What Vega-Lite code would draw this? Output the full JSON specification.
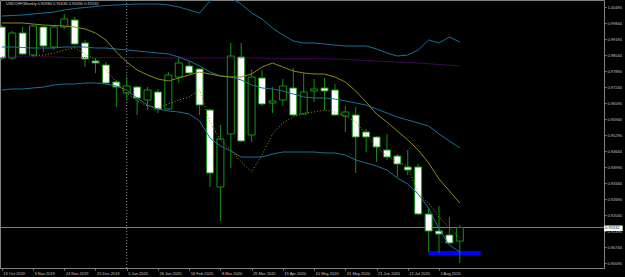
{
  "$schema": "https://vega.github.io/schema/vega-lite/v6.json",
  "width": 604,
  "height": 268,
  "autosize": {"type": "none"},
  "padding": {"left": 0, "top": 0, "right": 21, "bottom": 9},
  "background": "#000000",
  "config": {
    "font": "Liberation Sans",
    "view": {"stroke": "#808080", "fill": "#000000"},
    "scale": {"continuousPadding": 0},
    "axis": {"grid": false, "domainColor": "#808080", "tickColor": "#808080", "labelColor": "#c8c8c8", "labelFontSize": 4, "labelFont": "Liberation Sans", "tickSize": 2, "labelOverlap": false, "labelFlush": false, "title": null}
  },
  "datasets": {
    "bars": [
      {"d":"2019-10-13","o":0.99678,"h":0.99759,"l":0.98337,"c":0.98418,"up":1.00124,"mid":0.98865,"lo":0.97118,"ma":0.99840,"sar":null,"pur":0.98459},
      {"d":"2019-10-20","o":0.98418,"h":0.99515,"l":0.98337,"c":0.99434,"up":1.00145,"mid":0.98865,"lo":0.97159,"ma":0.99840,"sar":null,"pur":0.98459},
      {"d":"2019-10-27","o":0.99434,"h":0.99678,"l":0.98540,"c":0.98581,"up":1.00165,"mid":0.98845,"lo":0.97159,"ma":0.99840,"sar":null,"pur":0.98459},
      {"d":"2019-11-03","o":0.98540,"h":0.99759,"l":0.98499,"c":0.99718,"up":1.00206,"mid":0.98824,"lo":0.97199,"ma":0.99799,"sar":0.98499,"pur":0.98459},
      {"d":"2019-11-10","o":0.99678,"h":0.99718,"l":0.98662,"c":0.98906,"up":1.00246,"mid":0.98824,"lo":0.97240,"ma":0.99759,"sar":0.98540,"pur":0.98459},
      {"d":"2019-11-17","o":0.98865,"h":0.99759,"l":0.98743,"c":0.99678,"up":1.00287,"mid":0.98824,"lo":0.97321,"ma":0.99738,"sar":0.98621,"pur":0.98459},
      {"d":"2019-11-24","o":0.99678,"h":1.00206,"l":0.99596,"c":1.00003,"up":1.00368,"mid":0.98865,"lo":0.97362,"ma":0.99718,"sar":0.98743,"pur":0.98438},
      {"d":"2019-12-01","o":0.99962,"h":1.00084,"l":0.98946,"c":0.98987,"up":1.00429,"mid":0.98865,"lo":0.97362,"ma":0.99678,"sar":0.98824,"pur":0.98438},
      {"d":"2019-12-08","o":0.99028,"h":0.99150,"l":0.98053,"c":0.98378,"up":1.00470,"mid":0.98865,"lo":0.97403,"ma":0.99596,"sar":0.98581,"pur":0.98438},
      {"d":"2019-12-15","o":0.98296,"h":0.98418,"l":0.97809,"c":0.98215,"up":1.00510,"mid":0.98824,"lo":0.97403,"ma":0.99434,"sar":0.98337,"pur":0.98438},
      {"d":"2019-12-22","o":0.98134,"h":0.98256,"l":0.97362,"c":0.97403,"up":1.00551,"mid":0.98824,"lo":0.97362,"ma":0.99150,"sar":0.97931,"pur":0.98438},
      {"d":"2019-12-29","o":0.97443,"h":0.97524,"l":0.96428,"c":0.97240,"up":1.00571,"mid":0.98784,"lo":0.97281,"ma":0.98662,"sar":0.97443,"pur":0.98438},
      {"d":"2020-01-05","o":0.96996,"h":0.97646,"l":0.96712,"c":0.97281,"up":1.00592,"mid":0.98743,"lo":0.97118,"ma":0.98256,"sar":0.96996,"pur":0.98438},
      {"d":"2020-01-12","o":0.97240,"h":0.97281,"l":0.96103,"c":0.96793,"up":1.00612,"mid":0.98703,"lo":0.96793,"ma":0.97931,"sar":0.96672,"pur":0.98438},
      {"d":"2020-01-19","o":0.96712,"h":0.97240,"l":0.96306,"c":0.97118,"up":1.00612,"mid":0.98662,"lo":0.96509,"ma":0.97728,"sar":0.96468,"pur":0.98438},
      {"d":"2020-01-26","o":0.97037,"h":0.97159,"l":0.96184,"c":0.96346,"up":1.00612,"mid":0.98621,"lo":0.96346,"ma":0.97565,"sar":0.96387,"pur":0.98438},
      {"d":"2020-02-02","o":0.96346,"h":0.97849,"l":0.96306,"c":0.97728,"up":1.00571,"mid":0.98581,"lo":0.96265,"ma":0.97484,"sar":0.96550,"pur":0.98418},
      {"d":"2020-02-09","o":0.97646,"h":0.98459,"l":0.97403,"c":0.98215,"up":1.00490,"mid":0.98459,"lo":0.96225,"ma":0.97606,"sar":0.96712,"pur":0.98418},
      {"d":"2020-02-16","o":0.98093,"h":0.98296,"l":0.97768,"c":0.97809,"up":1.00368,"mid":0.98296,"lo":0.96143,"ma":0.97728,"sar":0.96834,"pur":0.98418},
      {"d":"2020-02-23","o":0.97971,"h":0.98012,"l":0.96103,"c":0.96509,"up":1.00246,"mid":0.98093,"lo":0.95859,"ma":0.97849,"sar":0.97118,"pur":0.98418},
      {"d":"2020-03-01","o":0.96306,"h":0.96346,"l":0.93177,"c":0.93746,"up":1.00734,"mid":0.97849,"lo":0.95168,"ma":0.97768,"sar":0.95818,"pur":0.98418},
      {"d":"2020-03-08","o":0.93177,"h":0.95696,"l":0.91796,"c":0.95127,"up":1.01018,"mid":0.97687,"lo":0.94843,"ma":0.97687,"sar":0.95087,"pur":0.98418},
      {"d":"2020-03-15","o":0.95331,"h":0.99028,"l":0.93949,"c":0.98499,"up":1.00856,"mid":0.97646,"lo":0.94640,"ma":0.97646,"sar":0.94681,"pur":0.98418},
      {"d":"2020-03-22","o":0.98459,"h":0.99028,"l":0.95006,"c":0.95046,"up":1.00612,"mid":0.97524,"lo":0.94396,"ma":0.97646,"sar":0.94193,"pur":0.98418},
      {"d":"2020-03-29","o":0.95290,"h":0.97931,"l":0.95006,"c":0.97646,"up":1.00246,"mid":0.97321,"lo":0.94396,"ma":0.97768,"sar":0.93787,"pur":0.98418},
      {"d":"2020-04-05","o":0.97606,"h":0.97931,"l":0.96468,"c":0.96550,"up":1.00003,"mid":0.97199,"lo":0.94396,"ma":0.98053,"sar":0.94478,"pur":0.98418},
      {"d":"2020-04-12","o":0.96590,"h":0.97240,"l":0.96184,"c":0.96672,"up":0.99637,"mid":0.97159,"lo":0.94518,"ma":0.98215,"sar":0.95331,"pur":0.98389},
      {"d":"2020-04-19","o":0.96712,"h":0.97565,"l":0.96468,"c":0.97281,"up":0.99353,"mid":0.97078,"lo":0.94599,"ma":0.98053,"sar":0.95778,"pur":0.98389},
      {"d":"2020-04-26","o":0.97199,"h":0.98012,"l":0.96062,"c":0.96103,"up":0.99109,"mid":0.96956,"lo":0.94599,"ma":0.97890,"sar":0.96021,"pur":0.98389},
      {"d":"2020-05-03","o":0.96143,"h":0.97809,"l":0.96103,"c":0.97037,"up":0.99028,"mid":0.96834,"lo":0.94599,"ma":0.97809,"sar":0.96184,"pur":0.98389},
      {"d":"2020-05-10","o":0.97078,"h":0.97565,"l":0.96631,"c":0.97159,"up":0.99028,"mid":0.96793,"lo":0.94599,"ma":0.97768,"sar":0.96225,"pur":0.98389},
      {"d":"2020-05-17","o":0.97199,"h":0.97606,"l":0.96306,"c":0.97078,"up":0.98987,"mid":0.96793,"lo":0.94559,"ma":0.97768,"sar":0.96306,"pur":0.98389},
      {"d":"2020-05-24","o":0.97118,"h":0.97362,"l":0.96062,"c":0.96103,"up":0.98946,"mid":0.96753,"lo":0.94559,"ma":0.97646,"sar":0.96225,"pur":0.98378},
      {"d":"2020-05-31","o":0.96062,"h":0.96468,"l":0.95412,"c":0.96225,"up":0.98906,"mid":0.96672,"lo":0.94478,"ma":0.97443,"sar":0.96062,"pur":0.98357},
      {"d":"2020-06-07","o":0.96103,"h":0.96428,"l":0.93746,"c":0.95209,"up":0.98906,"mid":0.96590,"lo":0.94275,"ma":0.97078,"sar":0.95818,"pur":0.98337},
      {"d":"2020-06-14","o":0.95412,"h":0.95534,"l":0.94599,"c":0.95209,"up":0.98906,"mid":0.96509,"lo":0.94153,"ma":0.96631,"sar":0.95290,"pur":0.98317},
      {"d":"2020-06-21","o":0.95209,"h":0.95249,"l":0.94193,"c":0.94802,"up":0.98784,"mid":0.96346,"lo":0.94031,"ma":0.96143,"sar":0.94802,"pur":0.98296},
      {"d":"2020-06-28","o":0.94681,"h":0.95331,"l":0.94275,"c":0.94396,"up":0.98621,"mid":0.96184,"lo":0.93868,"ma":0.95818,"sar":0.94437,"pur":0.98276},
      {"d":"2020-07-05","o":0.94437,"h":0.94518,"l":0.93584,"c":0.94112,"up":0.98499,"mid":0.96021,"lo":0.93543,"ma":0.95452,"sar":0.94193,"pur":0.98256},
      {"d":"2020-07-12","o":0.93990,"h":0.94681,"l":0.93665,"c":0.93868,"up":0.98540,"mid":0.95899,"lo":0.93299,"ma":0.95087,"sar":0.94031,"pur":0.98235},
      {"d":"2020-07-19","o":0.93990,"h":0.94112,"l":0.92040,"c":0.92080,"up":0.98743,"mid":0.95778,"lo":0.92893,"ma":0.94681,"sar":0.92893,"pur":0.98215},
      {"d":"2020-07-26","o":0.92080,"h":0.92324,"l":0.90536,"c":0.91390,"up":0.99150,"mid":0.95655,"lo":0.92324,"ma":0.94152,"sar":0.92528,"pur":0.98186},
      {"d":"2020-08-02","o":0.91390,"h":0.92405,"l":0.90495,"c":0.91268,"up":0.99028,"mid":0.95331,"lo":0.91471,"ma":0.93502,"sar":0.91959,"pur":0.98154},
      {"d":"2020-08-09","o":0.91228,"h":0.91959,"l":0.90861,"c":0.90902,"up":0.99271,"mid":0.95046,"lo":0.90821,"ma":0.93015,"sar":0.91512,"pur":0.98126},
      {"d":"2020-08-16","o":0.90980,"h":0.91636,"l":0.90090,"c":0.91532,"up":0.99068,"mid":0.94762,"lo":0.90536,"ma":0.92528,"sar":0.91106,"pur":0.98093}
    ],
    "zone": [{"from": "2020-07-26", "to": "2020-08-30", "top": 0.90577, "bottom": 0.90414}],
    "header": [{"label": "USDCHF,Weekly  0.90980 0.91636 0.90090 0.91532"}],
    "last": [{"price": 0.91532, "label": "0.91532", "sep": "2020-01-05"}]
  },
  "layer": [
    {
      "data": {"name": "zone"},
      "mark": {"type": "rect", "color": "#0000ff", "clip": true},
      "encoding": {
        "x": {"field": "from", "type": "temporal", "title": null,
          "scale": {"type": "utc", "padding": 0, "domain": [{"year": 2019, "month": 10, "date": 11, "hours": 18, "minutes": 57, "utc": true}, {"year": 2020, "month": 11, "date": 20, "hours": 22, "minutes": 45, "utc": true}]},
          "axis": {"orient": "bottom", "format": "%-d %b %Y", "labelAlign": "left", "labelBaseline": "top", "labelPadding": 1, "labelOffset": 1, "labelOverlap": false, "tickCount": 40,
            "values": [
              {"year": 2019, "month": 10, "date": 13, "utc": true},
              {"year": 2019, "month": 11, "date": 3, "utc": true},
              {"year": 2019, "month": 11, "date": 24, "utc": true},
              {"year": 2019, "month": 12, "date": 15, "utc": true},
              {"year": 2020, "month": 1, "date": 5, "utc": true},
              {"year": 2020, "month": 1, "date": 26, "utc": true},
              {"year": 2020, "month": 2, "date": 16, "utc": true},
              {"year": 2020, "month": 3, "date": 8, "utc": true},
              {"year": 2020, "month": 3, "date": 29, "utc": true},
              {"year": 2020, "month": 4, "date": 19, "utc": true},
              {"year": 2020, "month": 5, "date": 10, "utc": true},
              {"year": 2020, "month": 5, "date": 31, "utc": true},
              {"year": 2020, "month": 6, "date": 21, "utc": true},
              {"year": 2020, "month": 7, "date": 12, "utc": true},
              {"year": 2020, "month": 8, "date": 2, "utc": true}
            ]}},
        "x2": {"field": "to"},
        "y": {"field": "top", "type": "quantitative", "title": null,
          "scale": {"domain": [0.898869, 1.007744], "nice": false, "zero": false, "padding": 0},
          "axis": {"orient": "right", "format": ".5f", "labelPadding": 1, "labelBaseline": "middle", "labelOverlap": false, "tickCount": 40,
            "values": [0.90090, 0.90740, 0.91390, 0.92040, 0.92690, 0.93340, 0.93990, 0.94640, 0.95290, 0.95940, 0.96590, 0.97240, 0.97890, 0.98540, 0.99190, 0.99840, 1.00490]}},
        "y2": {"field": "bottom"}
      }
    },
    {
      "data": {"name": "last"},
      "mark": {"type": "rule", "color": "#909090", "strokeDash": [1, 2], "strokeWidth": 1},
      "encoding": {"x": {"field": "sep", "type": "temporal", "title": null}}
    },
    {
      "data": {"name": "last"},
      "mark": {"type": "rule", "color": "#808080", "strokeWidth": 1},
      "encoding": {"y": {"field": "price", "type": "quantitative", "title": null}}
    },
    {
      "data": {"name": "bars"},
      "mark": {"type": "rule", "color": "#0c960c", "strokeWidth": 1, "clip": true},
      "encoding": {
        "x": {"field": "d", "type": "temporal", "title": null},
        "y": {"field": "l", "type": "quantitative", "title": null},
        "y2": {"field": "h"}
      }
    },
    {
      "data": {"name": "bars"},
      "mark": {"type": "bar", "width": 7, "stroke": "#0c960c", "strokeWidth": 1, "clip": true},
      "encoding": {
        "x": {"field": "d", "type": "temporal", "title": null},
        "y": {"field": "o", "type": "quantitative", "title": null},
        "y2": {"field": "c"},
        "fill": {"condition": {"test": "datum.c < datum.o", "value": "#ffffff"}, "value": "#000000"}
      }
    },
    {
      "data": {"name": "bars"},
      "mark": {"type": "line", "color": "#1a7096", "strokeWidth": 1, "clip": true},
      "encoding": {"x": {"field": "d", "type": "temporal", "title": null}, "y": {"field": "up", "type": "quantitative", "title": null}}
    },
    {
      "data": {"name": "bars"},
      "mark": {"type": "line", "color": "#1a7096", "strokeWidth": 1, "clip": true},
      "encoding": {"x": {"field": "d", "type": "temporal", "title": null}, "y": {"field": "mid", "type": "quantitative", "title": null}}
    },
    {
      "data": {"name": "bars"},
      "mark": {"type": "line", "color": "#1a7096", "strokeWidth": 1, "clip": true},
      "encoding": {"x": {"field": "d", "type": "temporal", "title": null}, "y": {"field": "lo", "type": "quantitative", "title": null}}
    },
    {
      "data": {"name": "bars"},
      "mark": {"type": "line", "color": "#6a1a8a", "strokeWidth": 1, "strokeDash": [1, 1], "clip": true},
      "encoding": {"x": {"field": "d", "type": "temporal", "title": null}, "y": {"field": "pur", "type": "quantitative", "title": null}}
    },
    {
      "data": {"name": "bars"},
      "mark": {"type": "line", "color": "#8c8c14", "strokeWidth": 1, "clip": true},
      "encoding": {"x": {"field": "d", "type": "temporal", "title": null}, "y": {"field": "ma", "type": "quantitative", "title": null}}
    },
    {
      "data": {"name": "bars"},
      "mark": {"type": "line", "color": "#9a9a18", "strokeWidth": 1, "strokeDash": [1, 2], "clip": true},
      "encoding": {"x": {"field": "d", "type": "temporal", "title": null}, "y": {"field": "sar", "type": "quantitative", "title": null}}
    },
    {
      "data": {"name": "header"},
      "mark": {"type": "text", "align": "left", "baseline": "top", "dx": 6, "dy": 2, "fontSize": 4, "color": "#d0d0d0", "font": "Liberation Sans"},
      "encoding": {
        "x": {"datum": {"year": 2019, "month": 10, "date": 11, "hours": 18, "minutes": 57, "utc": true}, "type": "temporal"},
        "y": {"datum": 1.007744, "type": "quantitative"},
        "text": {"field": "label"}
      }
    },
    {
      "data": {"name": "last"},
      "mark": {"type": "rect", "color": "#ffffff", "clip": false},
      "encoding": {
        "x": {"datum": {"year": 2020, "month": 11, "date": 21, "utc": true}, "type": "temporal"},
        "x2": {"datum": {"year": 2020, "month": 12, "date": 3, "hours": 12, "utc": true}},
        "y": {"datum": 0.91613, "type": "quantitative"},
        "y2": {"datum": 0.91390}
      }
    },
    {
      "data": {"name": "last"},
      "mark": {"type": "text", "align": "left", "baseline": "middle", "dx": 1, "fontSize": 4, "color": "#000000", "font": "Liberation Sans", "clip": false},
      "encoding": {
        "x": {"datum": {"year": 2020, "month": 11, "date": 21, "utc": true}, "type": "temporal"},
        "y": {"field": "price", "type": "quantitative"},
        "text": {"field": "label"}
      }
    }
  ]
}
